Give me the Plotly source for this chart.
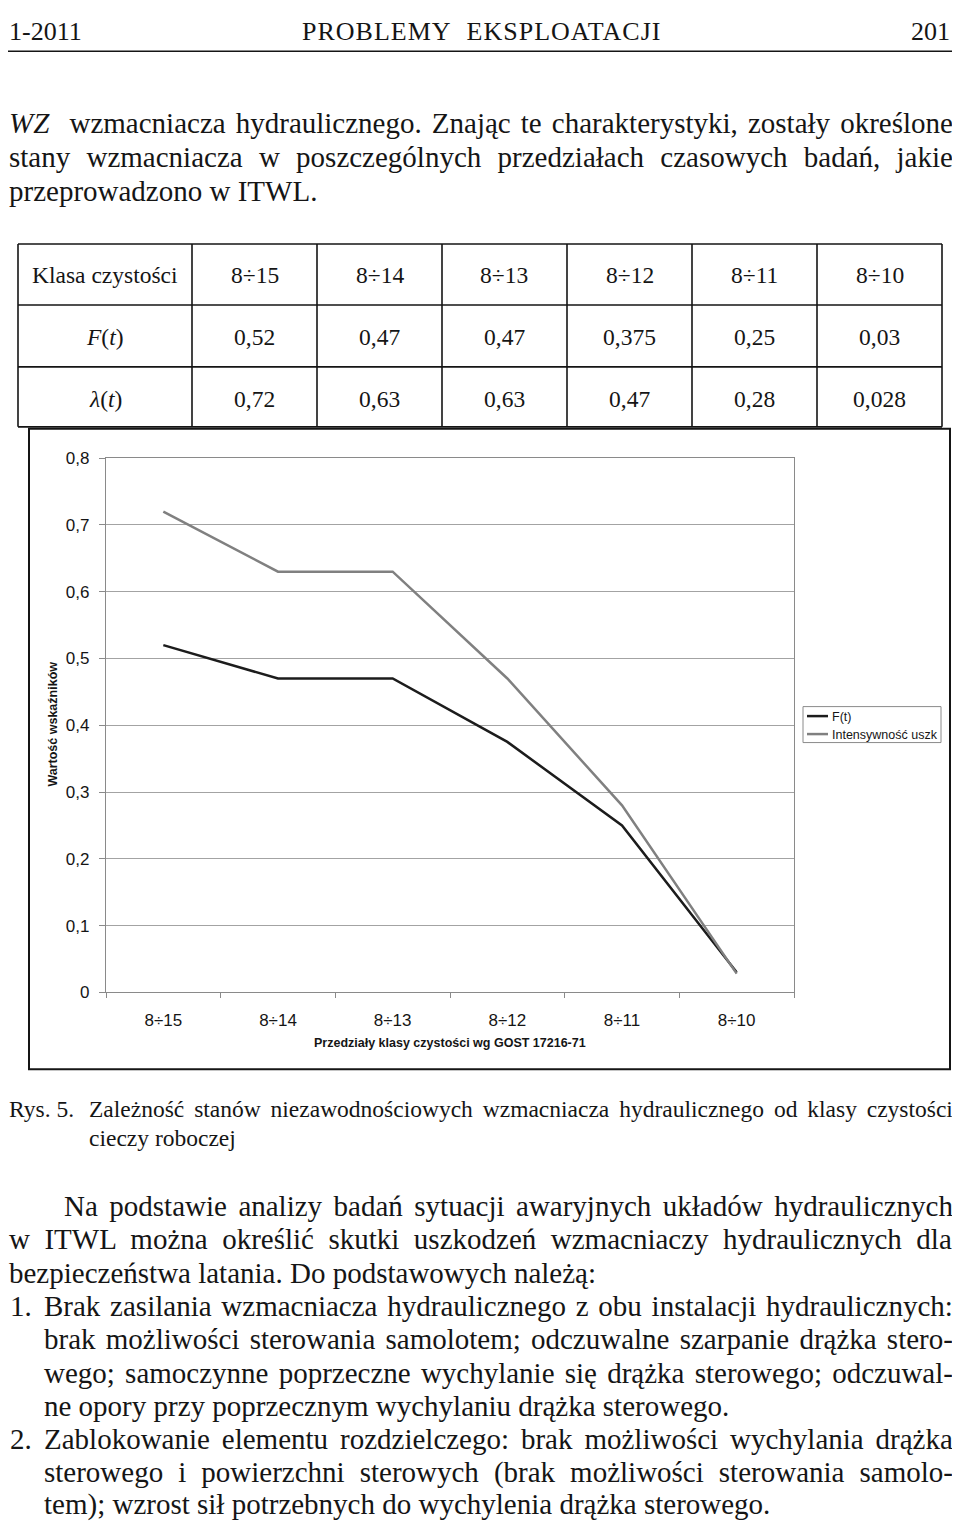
import plotly.graph_objects as go

# ---------------- data ----------------
categories = ["8÷15", "8÷14", "8÷13", "8÷12", "8÷11", "8÷10"]
F_vals = [0.52, 0.47, 0.47, 0.375, 0.25, 0.03]
lam_vals = [0.72, 0.63, 0.63, 0.47, 0.28, 0.028]
series_names = ["F(t)", "Intensywność uszk"]
y_tick_vals = [0, 0.1, 0.2, 0.3, 0.4, 0.5, 0.6, 0.7, 0.8]
table_row_labels = ["Klasa czystości", "<i>F</i>(<i>t</i>)", "<i>λ</i>(<i>t</i>)"]

header_left = "1-2011"
header_mid = "PROBLEMY&nbsp; EKSPLOATACJI"
header_right = "201"

# ---------------- layout helpers ----------------
# page-pixel coordinates (as in the picture) -> figure paper coordinates
OFFX, OFFY = 8, 17
SY = 1532 / 1550.0
W, H = 944, 1524
SERIF = "Liberation Serif, Times New Roman, serif"
SANS = "Liberation Sans, Arial, sans-serif"
INK = "#151515"
NBSP = "\u00a0"


def px(x):
    return (x - OFFX) / W


def py(y):
    return 1 - (y / SY - OFFY) / H


# Times-Roman metrics (1/1000 em)
TW = {' ': 250, NBSP: 250, '!': 333, '(': 333, ')': 333, ',': 250, '-': 333, '.': 250, ':': 278, ';': 278,
      'A': 722, 'B': 667, 'C': 667, 'D': 722, 'E': 611, 'F': 556, 'G': 722, 'H': 722, 'I': 333,
      'J': 389, 'K': 722, 'L': 611, 'M': 889, 'N': 722, 'O': 722, 'P': 556, 'Q': 722, 'R': 667,
      'S': 556, 'T': 611, 'U': 722, 'V': 722, 'W': 944, 'X': 722, 'Y': 722, 'Z': 611,
      'a': 444, 'b': 500, 'c': 444, 'd': 500, 'e': 444, 'f': 333, 'g': 500, 'h': 500, 'i': 278,
      'j': 278, 'k': 500, 'l': 278, 'm': 778, 'n': 500, 'o': 500, 'p': 500, 'q': 500, 'r': 333,
      's': 389, 't': 278, 'u': 500, 'v': 500, 'w': 722, 'x': 500, 'y': 500, 'z': 444,
      'ą': 444, 'ć': 444, 'ę': 444, 'ł': 278, 'ń': 500, 'ó': 500, 'ś': 389, 'ź': 444, 'ż': 444,
      'Ż': 611, 'Ś': 556, 'Ł': 611}
TW_IT = {'W': 833, 'Z': 556}
for d in '0123456789':
    TW[d] = 500


def seg_width(text, size, italic=False):
    tot = 0
    for ch in text:
        if italic and ch in TW_IT:
            tot += TW_IT[ch]
        else:
            tot += TW.get(ch, 500)
    return tot * size / 1000.0


annotations = []
shapes = []


def text_line(segments, x0, ymid, size, x1=None):
    natural = sum(seg_width(t, size, it) for t, it in segments)
    nsp = sum(t.count(' ') + t.count(NBSP) for t, it in segments)
    ws = 0.0
    if x1 is not None and nsp > 0:
        ws = (x1 - x0 - natural) / nsp
    html = "".join(("<i>%s</i>" % t) if it else t for t, it in segments)
    html = '<span style="word-spacing:%.2fpx">%s</span>' % (ws, html)
    annotations.append(dict(text=html, x=px(x0), y=py(ymid), xref="paper", yref="paper",
                            xanchor="left", yanchor="middle", showarrow=False, borderpad=0,
                            font=dict(family=SERIF, size=size, color=INK)))


def label(text, x, y, size, family=SERIF, xanchor="center", angle=0, color=INK):
    annotations.append(dict(text=text, x=px(x), y=py(y), xref="paper", yref="paper",
                            xanchor=xanchor, yanchor="middle", showarrow=False, borderpad=0,
                            textangle=angle, font=dict(family=family, size=size, color=color)))


def hline(x0, x1, y, w=1.6, c=INK):
    shapes.append(dict(type="line", xref="paper", yref="paper", x0=px(x0), x1=px(x1),
                       y0=py(y), y1=py(y), line=dict(color=c, width=w)))


def vline(x, y0, y1, w=1.6, c=INK):
    shapes.append(dict(type="line", xref="paper", yref="paper", x0=px(x), x1=px(x),
                       y0=py(y0), y1=py(y1), line=dict(color=c, width=w)))


# ---------------- page header (kept inside the figure) ----------------
HS = 26
HY = 31.5
label(header_left, 8, HY, HS, xanchor="left")
annotations.append(dict(text='<span style="letter-spacing:1px">%s</span>' % header_mid,
                        x=px(481), y=py(HY), xref="paper", yref="paper", xanchor="center",
                        yanchor="middle", showarrow=False, borderpad=0,
                        font=dict(family=SERIF, size=HS, color=INK)))
label(header_right, 951, HY, HS, xanchor="right")
hline(8, 952, 51, w=1.5)

# ---------------- body text (top) ----------------
BS = 29
text_line([("WZ", True), (NBSP + " wzmacniacza hydraulicznego. Znając te charakterystyki, zostały określone", False)],
          8, 123, BS, 952)
text_line([("stany wzmacniacza w poszczególnych przedziałach czasowych badań, jakie", False)], 8, 157, BS, 952)
text_line([("przeprowadzono w ITWL.", False)], 8, 191, BS)

# ---------------- table ----------------
col_edges = [18, 192, 317, 442, 567, 692, 817, 942]
row_edges = [244, 305, 367, 427]
for y in row_edges:
    hline(col_edges[0], col_edges[-1], y)
for x in col_edges:
    vline(x, row_edges[0], row_edges[-1])

row_mid = [275, 337, 399]
TS = 23.5
label(table_row_labels[0], (col_edges[0] + col_edges[1]) / 2, row_mid[0], TS)
label(table_row_labels[1], (col_edges[0] + col_edges[1]) / 2, row_mid[1], TS)
label(table_row_labels[2], (col_edges[0] + col_edges[1]) / 2, row_mid[2], TS)
for i, cat in enumerate(categories):
    cx = (col_edges[i + 1] + col_edges[i + 2]) / 2
    label(cat, cx, row_mid[0], TS)
    label(str(F_vals[i]).replace(".", ","), cx, row_mid[1], TS)
    label(str(lam_vals[i]).replace(".", ","), cx, row_mid[2], TS)

# ---------------- chart frame ----------------
shapes.append(dict(type="rect", xref="paper", yref="paper", x0=px(29), x1=px(950),
                   y0=py(1070), y1=py(429), line=dict(color=INK, width=2), layer="below"))

# ---------------- chart traces ----------------
fig = go.Figure()
fig.add_trace(go.Scatter(x=categories, y=F_vals, mode="lines", name=series_names[0],
                         line=dict(color="#1c1c1c", width=2.5), showlegend=False))
fig.add_trace(go.Scatter(x=categories, y=lam_vals, mode="lines", name=series_names[1],
                         line=dict(color="#808080", width=2.5), showlegend=False))

# axis titles
label("<b>Wartość wskaźników</b>", 53, 725, 12.5, family=SANS, angle=-90)
label("<b>Przedziały klasy czystości wg GOST 17216-71</b>", 450, 1044, 12.5, family=SANS)

# manual legend
shapes.append(dict(type="rect", xref="paper", yref="paper", x0=px(803), x1=px(941),
                   y0=py(743), y1=py(707), line=dict(color="#8a8a8a", width=1), fillcolor="white"))
hline(807, 828, 716.5, w=2.5, c="#1c1c1c")
hline(807, 828, 734.5, w=2.5, c="#808080")
label(series_names[0], 831, 717, 12.5, family=SANS, xanchor="left")
label(series_names[1], 831, 735, 12.5, family=SANS, xanchor="left")

# ---------------- caption & body text (bottom) ----------------
CS = 23.5
label("Rys. 5.", 8, 1110, CS, xanchor="left")
text_line([("Zależność stanów niezawodnościowych wzmacniacza hydraulicznego od klasy czystości", False)],
          88, 1110, CS, 952)
text_line([("cieczy roboczej", False)], 88, 1139, CS)

LS = 33.3
Y0 = 1207
text_line([("Na podstawie analizy badań sytuacji awaryjnych układów hydraulicznych", False)], 63, Y0, BS, 952)
text_line([("w ITWL można określić skutki uszkodzeń wzmacniaczy hydraulicznych dla", False)], 8, Y0 + LS, BS, 952)
text_line([("bezpieczeństwa latania. Do podstawowych należą:", False)], 8, Y0 + 2 * LS, BS)

label("1.", 9, Y0 + 3 * LS, BS, xanchor="left")
text_line([("Brak zasilania wzmacniacza hydraulicznego z obu instalacji hydraulicznych:", False)], 43, Y0 + 3 * LS, BS, 952)
text_line([("brak możliwości sterowania samolotem; odczuwalne szarpanie drążka stero-", False)], 43, Y0 + 4 * LS, BS, 952)
text_line([("wego; samoczynne poprzeczne wychylanie się drążka sterowego; odczuwal-", False)], 43, Y0 + 5 * LS, BS, 952)
text_line([("ne opory przy poprzecznym wychylaniu drążka sterowego.", False)], 43, Y0 + 6 * LS, BS)
label("2.", 9, Y0 + 7 * LS, BS, xanchor="left")
text_line([("Zablokowanie elementu rozdzielczego: brak możliwości wychylania drążka", False)], 43, Y0 + 7 * LS, BS, 952)
text_line([("sterowego i powierzchni sterowych (brak możliwości sterowania samolo-", False)], 43, Y0 + 8 * LS, BS, 952)
text_line([("tem); wzrost sił potrzebnych do wychylenia drążka sterowego.", False)], 43, Y0 + 9 * LS - 1, BS)

# ---------------- layout ----------------
fig.update_layout(
    width=W, height=H,
    margin=dict(l=0, r=0, t=0, b=0),
    paper_bgcolor="white", plot_bgcolor="white",
    separators=", ",
    showlegend=False,
    shapes=shapes,
    annotations=annotations,
    xaxis=dict(domain=[px(106), px(794)], type="category", categoryorder="array",
               categoryarray=categories, range=[-0.5, len(categories) - 0.5],
               showline=True, linecolor="#8a8a8a", linewidth=1.2, mirror=True,
               showgrid=False, zeroline=False,
               ticks="outside", tickson="boundaries", ticklen=5, tickcolor="#8a8a8a", tickwidth=1.2,
               ticklabelstandoff=12,
               tickfont=dict(family=SANS, size=17, color=INK)),
    yaxis=dict(domain=[py(993), py(458.3)], range=[0, 0.8], tickvals=y_tick_vals,
               showline=True, linecolor="#8a8a8a", linewidth=1.2, mirror=True,
               showgrid=True, gridcolor="#a3a3a3", gridwidth=1.2, zeroline=False,
               ticks="outside", ticklen=6, tickcolor="#8a8a8a", tickwidth=1.2,
               ticklabelstandoff=6,
               tickfont=dict(family=SANS, size=17, color=INK)),
)

fig.write_html("out.html")
